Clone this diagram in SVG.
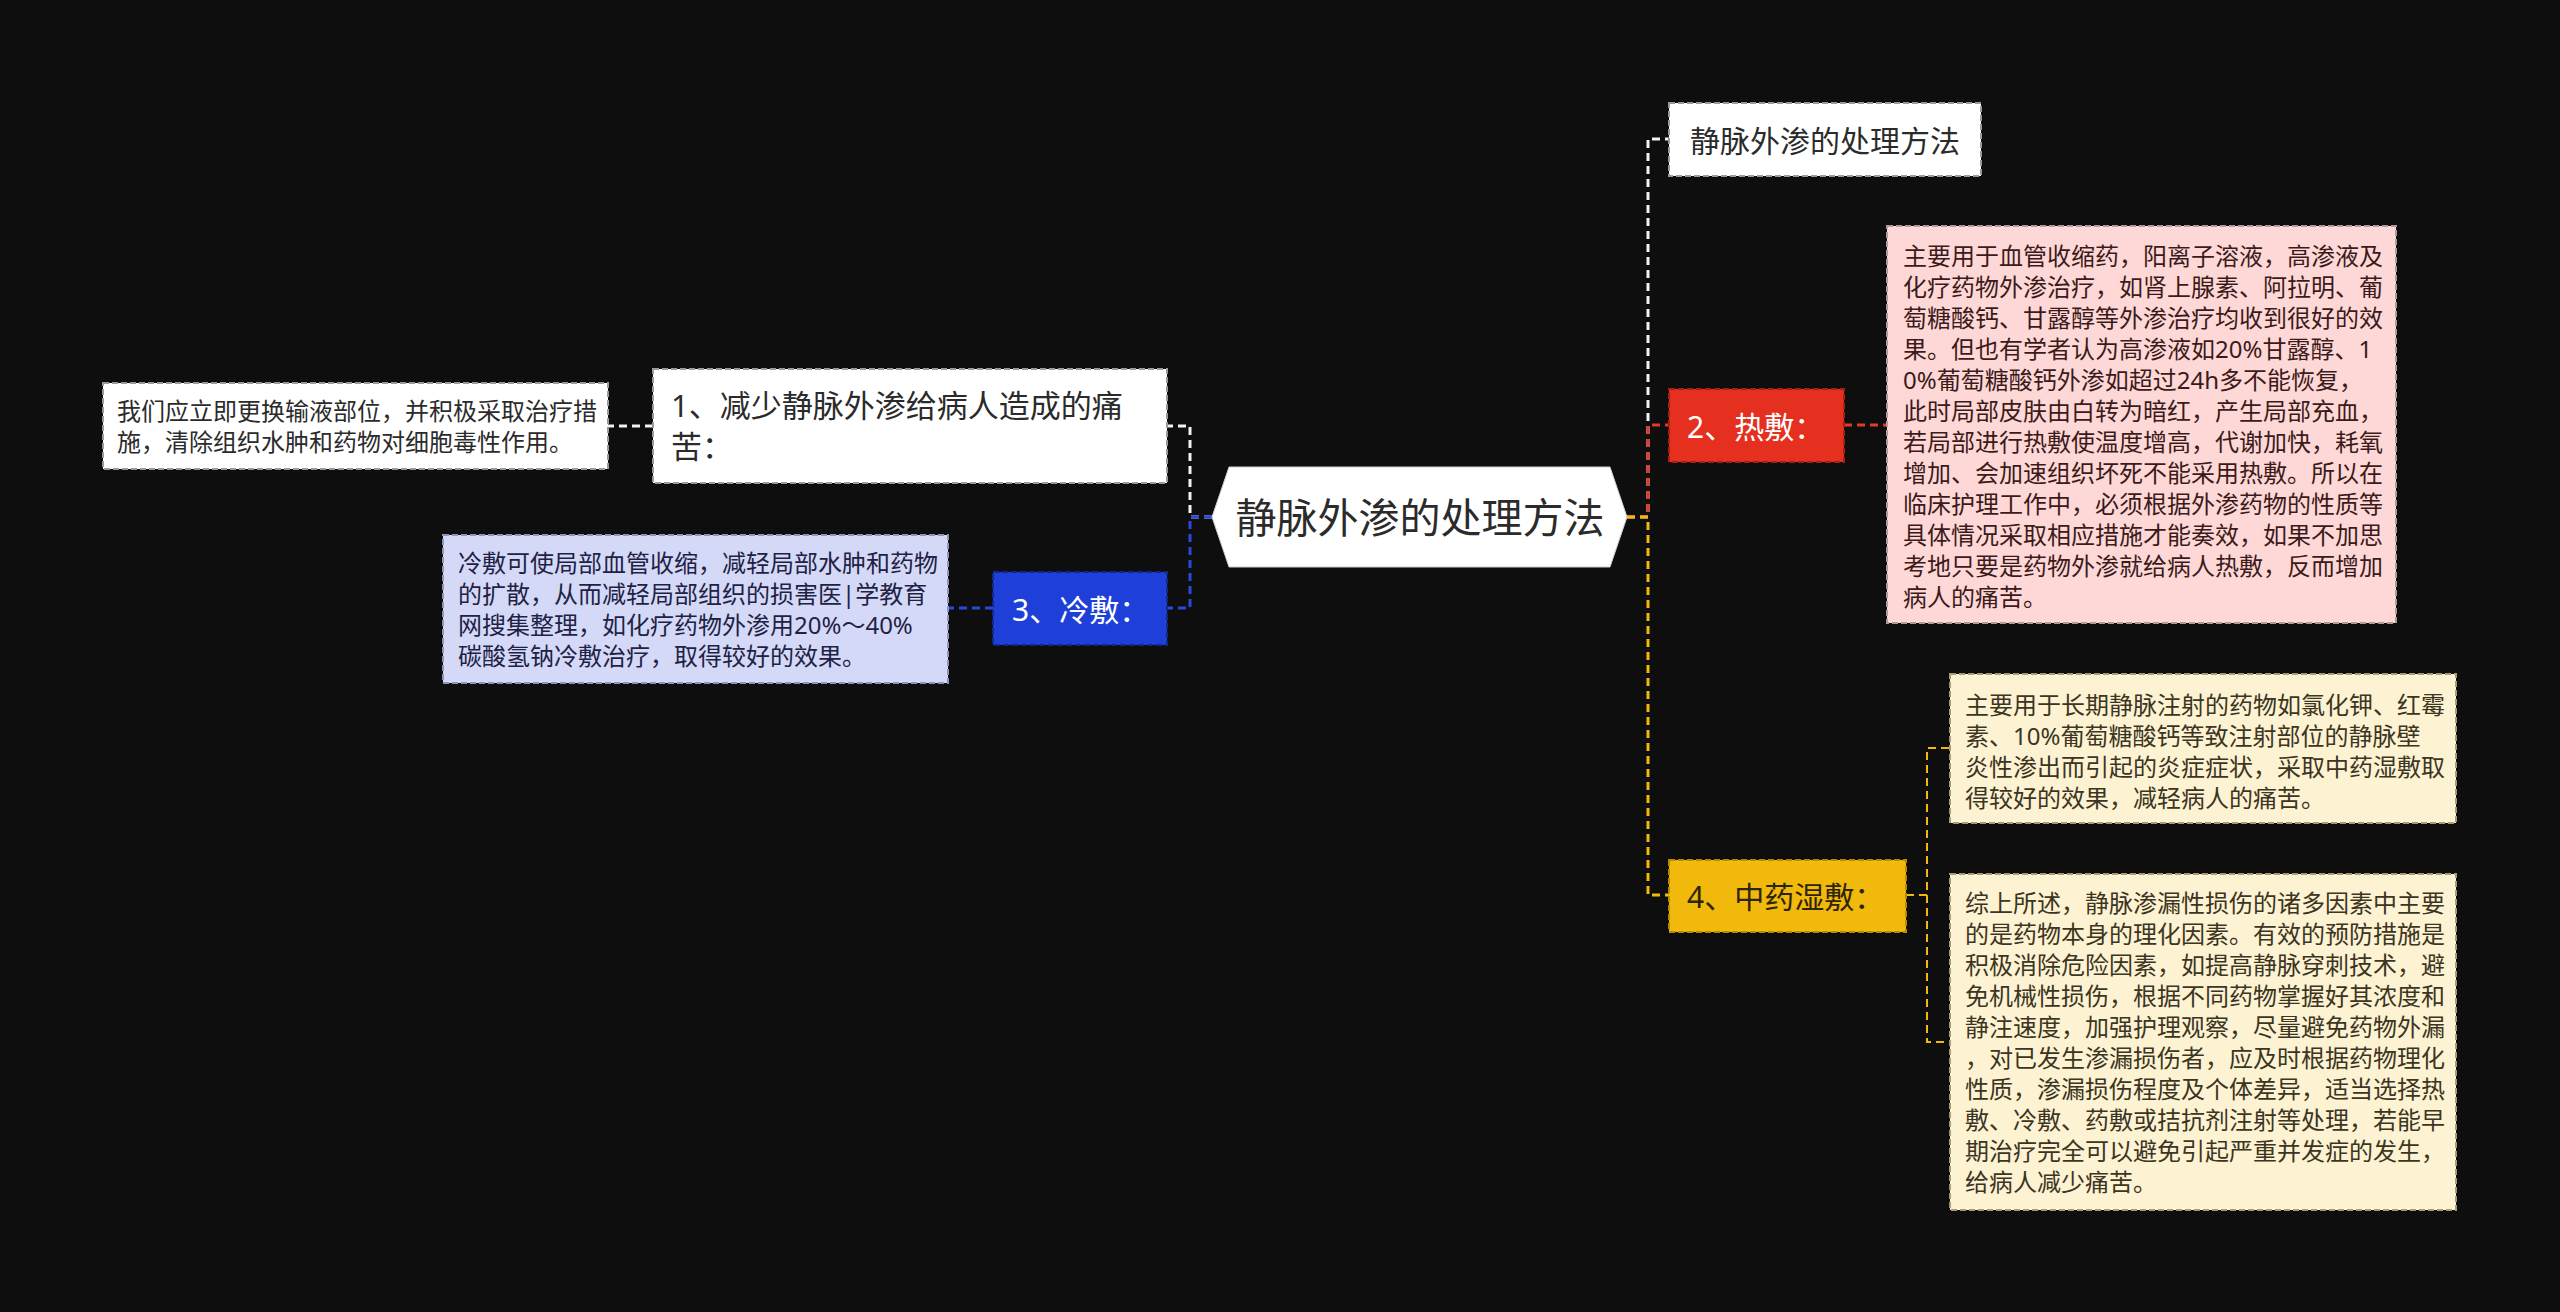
<svg xmlns="http://www.w3.org/2000/svg" width="2560" height="1312" viewBox="0 0 2560 1312">
<style>
text{font-family:"Noto Sans","Noto Sans CJK SC",sans-serif;}
.c{fill:none;stroke-width:3;stroke-dasharray:8 5;}
.cs{fill:none;stroke-width:2;stroke-dasharray:8 5;}
.w{stroke:#f2f2f2;}
.r{stroke:#e3392a;}
.y{stroke:#f0b90b;}
.b{stroke:#2a48d8;}
.bx{stroke-width:2;stroke-dasharray:6 3;}
.lbl{font-size:30px;dominant-baseline:central;}
.body{font-size:24px;}
</style>
<rect width="2560" height="1312" fill="#0e0e0e"/>
<g id="connectors">
<path class="c w" d="M1627,517 H1648 V139 H1669"/>
<path class="c r" d="M1627,517 H1648 V425 H1669"/>
<path class="c y" d="M1627,517 H1648 V895 H1669"/>
<path class="c r" d="M1844,425 H1887"/>
<path class="cs y" d="M1906,895 H1927 V748 H1950"/>
<path class="cs y" d="M1927,895 V1042 H1950"/>
<path class="c w" d="M1212,517 H1190 V426 H1167"/>
<path class="c b" d="M1212,517 H1190 V608 H1167"/>
<path class="c w" d="M653,426 H607"/>
<path class="c b" d="M993,608 H948"/>
</g>
<g id="root">
<polygon points="1212,517 1229,467 1610,467 1627,517 1610,567 1229,567" fill="#ffffff" stroke="#cfcfcf" stroke-width="1"/>
<text x="1420" y="517" font-size="41" fill="#2b2b2b" text-anchor="middle" dominant-baseline="central">静脉外渗的处理方法</text>
</g>
<g id="n-title">
<rect class="bx" x="1669" y="103" width="312" height="73" fill="#ffffff" stroke="#9a9a9a"/>
<text class="lbl" x="1825" y="140" fill="#2b2b2b" text-anchor="middle" font-size="31">静脉外渗的处理方法</text>
</g>
<g id="n-hot">
<rect class="bx" x="1669" y="389" width="175" height="73" fill="#e6301f" stroke="#a81e10"/>
<text class="lbl" x="1687" y="426" fill="#ffffff">2、热敷：</text>
</g>
<g id="n-hot-detail">
<rect class="bx" x="1887" y="226" width="509" height="397" fill="#fdd8d6" stroke="#b09a9a"/>
<text class="body" fill="#3c1a1a">
<tspan x="1903" y="265">主要用于血管收缩药，阳离子溶液，高渗液及</tspan>
<tspan x="1903" y="296">化疗药物外渗治疗，如肾上腺素、阿拉明、葡</tspan>
<tspan x="1903" y="327">萄糖酸钙、甘露醇等外渗治疗均收到很好的效</tspan>
<tspan x="1903" y="358">果。但也有学者认为高渗液如20%甘露醇、1</tspan>
<tspan x="1903" y="389">0%葡萄糖酸钙外渗如超过24h多不能恢复，</tspan>
<tspan x="1903" y="420">此时局部皮肤由白转为暗红，产生局部充血，</tspan>
<tspan x="1903" y="451">若局部进行热敷使温度增高，代谢加快，耗氧</tspan>
<tspan x="1903" y="482">增加、会加速组织坏死不能采用热敷。所以在</tspan>
<tspan x="1903" y="513">临床护理工作中，必须根据外渗药物的性质等</tspan>
<tspan x="1903" y="544">具体情况采取相应措施才能奏效，如果不加思</tspan>
<tspan x="1903" y="575">考地只要是药物外渗就给病人热敷，反而增加</tspan>
<tspan x="1903" y="606">病人的痛苦。</tspan>
</text>
</g>
<g id="n-herb">
<rect class="bx" x="1669" y="860" width="237" height="72" fill="#f0b90b" stroke="#b88a00"/>
<text class="lbl" x="1687" y="896" fill="#2e2508">4、中药湿敷：</text>
</g>
<g id="n-herb-detail1">
<rect class="bx" x="1950" y="674" width="506" height="149" fill="#fdf2d2" stroke="#a89c78"/>
<text class="body" fill="#3b3522">
<tspan x="1965" y="714">主要用于长期静脉注射的药物如氯化钾、红霉</tspan>
<tspan x="1965" y="745">素、10%葡萄糖酸钙等致注射部位的静脉壁</tspan>
<tspan x="1965" y="776">炎性渗出而引起的炎症症状，采取中药湿敷取</tspan>
<tspan x="1965" y="807">得较好的效果，减轻病人的痛苦。</tspan>
</text>
</g>
<g id="n-herb-detail2">
<rect class="bx" x="1950" y="874" width="506" height="336" fill="#fdf2d2" stroke="#a89c78"/>
<text class="body" fill="#3b3522">
<tspan x="1965" y="912">综上所述，静脉渗漏性损伤的诸多因素中主要</tspan>
<tspan x="1965" y="943">的是药物本身的理化因素。有效的预防措施是</tspan>
<tspan x="1965" y="974">积极消除危险因素，如提高静脉穿刺技术，避</tspan>
<tspan x="1965" y="1005">免机械性损伤，根据不同药物掌握好其浓度和</tspan>
<tspan x="1965" y="1036">静注速度，加强护理观察，尽量避免药物外漏</tspan>
<tspan x="1965" y="1067">，对已发生渗漏损伤者，应及时根据药物理化</tspan>
<tspan x="1965" y="1098">性质，渗漏损伤程度及个体差异，适当选择热</tspan>
<tspan x="1965" y="1129">敷、冷敷、药敷或拮抗剂注射等处理，若能早</tspan>
<tspan x="1965" y="1160">期治疗完全可以避免引起严重并发症的发生，</tspan>
<tspan x="1965" y="1191">给病人减少痛苦。</tspan>
</text>
</g>
<g id="n-reduce">
<rect class="bx" x="653" y="369" width="514" height="114" fill="#ffffff" stroke="#9a9a9a"/>
<text fill="#2b2b2b" font-size="31">
<tspan x="671" y="417">1、减少静脉外渗给病人造成的痛</tspan>
<tspan x="671" y="458">苦：</tspan>
</text>
</g>
<g id="n-reduce-detail">
<rect class="bx" x="103" y="383" width="505" height="86" fill="#ffffff" stroke="#9a9a9a"/>
<text class="body" fill="#2b2b2b">
<tspan x="117" y="420">我们应立即更换输液部位，并积极采取治疗措</tspan>
<tspan x="117" y="451">施，清除组织水肿和药物对细胞毒性作用。</tspan>
</text>
</g>
<g id="n-cold">
<rect class="bx" x="993" y="572" width="174" height="73" fill="#1f40d8" stroke="#10288a"/>
<text class="lbl" x="1012" y="609" fill="#ffffff">3、冷敷：</text>
</g>
<g id="n-cold-detail">
<rect class="bx" x="443" y="535" width="505" height="148" fill="#d4d9f8" stroke="#8e94b8"/>
<text class="body" fill="#1f2244">
<tspan x="458" y="572">冷敷可使局部血管收缩，减轻局部水肿和药物</tspan>
<tspan x="458" y="603">的扩散，从而减轻局部组织的损害医|学教育</tspan>
<tspan x="458" y="634">网搜集整理，如化疗药物外渗用20%～40%</tspan>
<tspan x="458" y="665">碳酸氢钠冷敷治疗，取得较好的效果。</tspan>
</text>
</g>
</svg>
